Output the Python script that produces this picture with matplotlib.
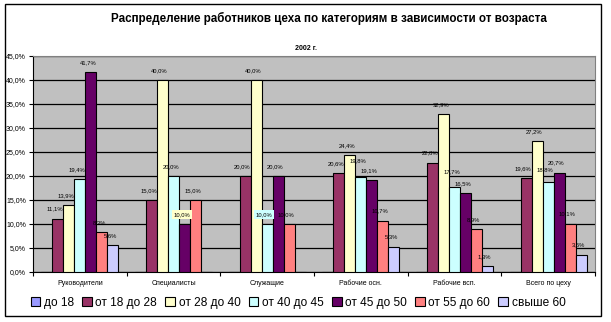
import matplotlib
matplotlib.use("Agg")
import matplotlib.pyplot as plt
import numpy as np
from matplotlib.patches import Rectangle

plt.rcParams["font.family"] = ["Liberation Sans", "DejaVu Sans"]

categories = ["Руководители", "Специалисты", "Служащие", "Рабочие осн.", "Рабочие всп.", "Всего по цеху"]
series_names = ["до 18", "от 18 до 28", "от 28 до 40", "от 40 до 45", "от 45 до 50", "от 55 до 60", "свыше 60"]
colors = ["#9999FF", "#993366", "#FFFFCC", "#CCFFFF", "#660066", "#FF8080", "#CCCCFF"]

up_to_18 = [0.0, 0.0, 0.0, 0.0, 0.0, 0.0]
from_18_28 = [11.1, 15.0, 20.0, 20.6, 22.8, 19.6]
from_28_40 = [13.9, 40.0, 40.0, 24.4, 32.9, 27.2]
from_40_45 = [19.4, 20.0, 10.0, 19.8, 17.7, 18.8]
from_45_50 = [41.7, 10.0, 20.0, 19.1, 16.5, 20.7]
from_55_60 = [8.3, 15.0, 10.0, 10.7, 8.9, 10.1]
over_60 = [5.6, 0.0, 0.0, 5.3, 1.3, 3.6]
series = [up_to_18, from_18_28, from_28_40, from_40_45, from_45_50, from_55_60, over_60]
yticks = np.arange(0, 46, 5)

W, H = 611, 322
fig = plt.figure(figsize=(W / 100, H / 100), dpi=100)
ax = fig.add_axes([33 / W, 1 - 272 / H, (595 - 33) / W, (272 - 56) / H])
ax.set_facecolor("#C0C0C0")

# labels Excel pushed up to keep them apart: (series, category) -> extra points
lift = {(3, 3): 5, (3, 4): 4, (3, 5): 2}

x = np.arange(len(categories))
n = len(series)
bw = 1 / (n + 1.5)
for i, (vals, col) in enumerate(zip(series, colors)):
    pos = x + (i - (n - 1) / 2) * bw
    ax.bar(pos, vals, width=bw, color=col, edgecolor="black", linewidth=0.8,
           label=series_names[i], zorder=3)
    for j, v in enumerate(vals):
        if v <= 0:
            continue
        txt = f"{v:.1f}%".replace(".", ",")
        bbox = None
        if v == 10.0 and i in (3, 4):
            bbox = dict(facecolor=col if i == 3 else colors[2], edgecolor="none", pad=1.2)
        ax.annotate(txt, (pos[j] - 0.03, v), xytext=(0, 5 + lift.get((i, j), 0)),
                    textcoords="offset points", ha="center", va="bottom",
                    fontsize=4.2, zorder=5, bbox=bbox)

ax.set_xlim(-0.5, len(categories) - 0.5)
ax.set_ylim(0, 45)
ax.set_yticks(yticks)
ax.set_yticklabels([f"{t:.1f}%".replace(".", ",") for t in yticks], fontsize=5)
ax.yaxis.grid(True, color="black", linewidth=0.9, zorder=0)
ax.set_axisbelow(True)
ax.set_xticks(x)
ax.set_xticklabels(categories, fontsize=5)
ax.set_xticks(np.arange(len(categories) + 1) - 0.5, minor=True)
ax.tick_params(axis="x", which="major", length=0, pad=6)
ax.tick_params(axis="x", which="minor", length=3, direction="out", width=0.8)
ax.tick_params(axis="y", length=3, direction="out", width=0.8, pad=2)
ax.spines["left"].set_color("black")
ax.spines["bottom"].set_color("black")
ax.spines["top"].set_color("#808080")
ax.spines["right"].set_color("#808080")

fig.text(329 / W, 1 - 18 / H, "Распределение работников цеха по категориям в зависимости от возраста",
         ha="center", va="center", fontsize=8.4, fontweight="bold")
fig.text(306 / W, 1 - 48 / H, "2002 г.", ha="center", va="center", fontsize=5, fontweight="bold")

fig.legend(loc="center", bbox_to_anchor=(298 / W, 1 - 303 / H), ncol=7, frameon=False,
           fontsize=8.6, handlelength=0.8, handleheight=0.8, handletextpad=0.3,
           columnspacing=0.7)

fig.patches.append(Rectangle((5 / W, 1 - 316 / H), 596 / W, 312 / H, transform=fig.transFigure,
                             fill=False, edgecolor="black", linewidth=1))

fig.savefig("out.png", dpi=100)
